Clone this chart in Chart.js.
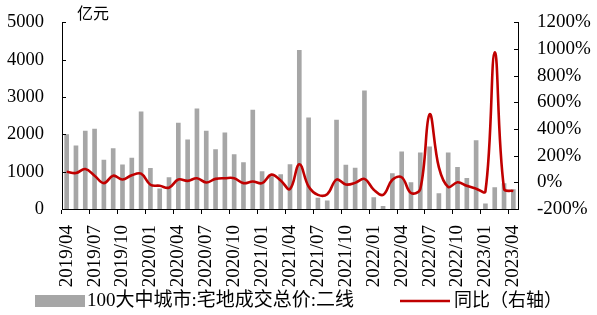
<!DOCTYPE html>
<html><head><meta charset="utf-8">
<script src="https://cdn.jsdelivr.net/npm/chart.js@4/dist/chart.umd.min.js"></script>
<style>html,body{margin:0;padding:0;background:#fff}#wrap{width:597px;height:315px}</style>
</head><body><div id="wrap"><canvas id="c" width="597" height="315"></canvas></div>
<script>
const categories = ["2019/04","2019/05","2019/06","2019/07","2019/08","2019/09","2019/10","2019/11","2019/12",
"2020/01","2020/02","2020/03","2020/04","2020/05","2020/06","2020/07","2020/08","2020/09","2020/10","2020/11","2020/12",
"2021/01","2021/02","2021/03","2021/04","2021/05","2021/06","2021/07","2021/08","2021/09","2021/10","2021/11","2021/12",
"2022/01","2022/02","2022/03","2022/04","2022/05","2022/06","2022/07","2022/08","2022/09","2022/10","2022/11","2022/12",
"2023/01","2023/02","2023/03","2023/04"];
const landValue = [2000,1700,2100,2150,1320,1630,1190,1370,2610,
1100,550,850,2310,1860,2690,2100,1600,2050,1465,1250,2660,
1010,880,930,1200,4260,2450,300,230,2390,1184,1105,3175,
316,79,956,1544,719,1517,1675,421,1517,1123,833,1842,
149,580,690,530];
const yoy = [80,70,100,50,-6,50,21,53,65,
-18,-26,-40,21,11,31,-1,26,31,31,-6,6,
-6,58,14,-50,136,-31,-94,-89,21,-16,-4,26,
-55,-94,19,38,-80,-50,510,112,-35,1,-26,-48,
-67,976,-48,-65];
const leftTicks = [0,1000,2000,3000,4000,5000];
const rightTicks = [-200,0,200,400,600,800,1000,1200];
const barName = "100大中城市:宅地成交总价:二线";
const lineName = "同比（右轴）";
const unitLabel = "亿元";

const FONT = '"Liberation Serif", "Noto Sans CJK SC", serif';
const BAR_COLOR = '#A6A6A6';
const LINE_COLOR = '#C00000';

const extras = {
  id: 'extras',
  afterDraw(chart) {
    const ctx = chart.ctx;
    const ya = chart.scales.y, yb = chart.scales.y2, ca = chart.chartArea;
    ctx.save();
    ctx.strokeStyle = '#000'; ctx.lineWidth = 1;
    leftTicks.forEach(v => { const p = Math.round(ya.getPixelForValue(v)) + 0.5;
      ctx.beginPath(); ctx.moveTo(ca.left, p); ctx.lineTo(ca.left + 4, p); ctx.stroke(); });
    rightTicks.forEach(v => { const p = Math.round(yb.getPixelForValue(v)) + 0.5;
      ctx.beginPath(); ctx.moveTo(ca.right, p); ctx.lineTo(ca.right - 4, p); ctx.stroke(); });
    ctx.fillStyle = '#000';
    ctx.font = '16px ' + FONT;
    ctx.textBaseline = 'middle'; ctx.textAlign = 'left';
    ctx.fillText(unitLabel, 77, 15);
    const ly = 301;
    ctx.fillStyle = BAR_COLOR;
    ctx.fillRect(35, ly - 6, 50, 12);
    ctx.fillStyle = '#000';
    ctx.font = '19px ' + FONT;
    ctx.fillText(barName, 87, ly);
    ctx.strokeStyle = LINE_COLOR; ctx.lineWidth = 2.5;
    ctx.beginPath(); ctx.moveTo(400, ly); ctx.lineTo(450, ly); ctx.stroke();
    ctx.font = '18px ' + FONT;
    ctx.fillText(lineName, 454, ly);
    ctx.restore();
  }
};

new Chart(document.getElementById('c'), {
  data: {
    labels: categories,
    datasets: [
      { type: 'line', label: lineName, data: yoy, yAxisID: 'y2', borderColor: LINE_COLOR,
        borderWidth: 2.6, pointRadius: 0, tension: 0.4, order: 0, fill: false },
      { type: 'bar', label: barName, data: landValue, yAxisID: 'y', backgroundColor: BAR_COLOR,
        barPercentage: 0.5, categoryPercentage: 1.0, order: 1 }
    ]
  },
  options: {
    responsive: false, animation: false,
    layout: { padding: { top: 19, left: 0, right: 0, bottom: 0 } },
    plugins: { legend: { display: false }, tooltip: { enabled: false } },
    scales: {
      x: {
        offset: true,
        grid: { display: true, drawOnChartArea: false, offset: true, tickLength: 5,
          color: (c) => (c.index % 3 === 0 ? '#000' : 'rgba(0,0,0,0)') },
        border: { display: true, color: '#000', width: 1 },
        ticks: { autoSkip: false, maxRotation: 90, minRotation: 90, padding: 11, color: '#000',
          font: { family: FONT, size: 19 },
          callback: function(v, i) { return i % 3 === 0 ? categories[i] : ''; } },
        afterFit: (s) => { s.height = 106; }
      },
      y: {
        position: 'left', min: 0, max: 5000,
        grid: { display: false },
        border: { display: true, color: '#000', width: 1 },
        ticks: { stepSize: 1000, autoSkip: false, padding: 10, color: '#000', font: { family: FONT, size: 18.5 },
          callback: (v) => String(v) },
        afterFit: (s) => { s.width = 62; }
      },
      y2: {
        position: 'right', min: -200, max: 1200,
        grid: { display: false },
        border: { display: true, color: '#000', width: 1 },
        ticks: { stepSize: 200, autoSkip: false, padding: 11, color: '#000', font: { family: FONT, size: 19 },
          callback: (v) => v + '%' },
        afterFit: (s) => { s.width = 79; }
      }
    }
  },
  plugins: [extras]
});
</script></body></html>
